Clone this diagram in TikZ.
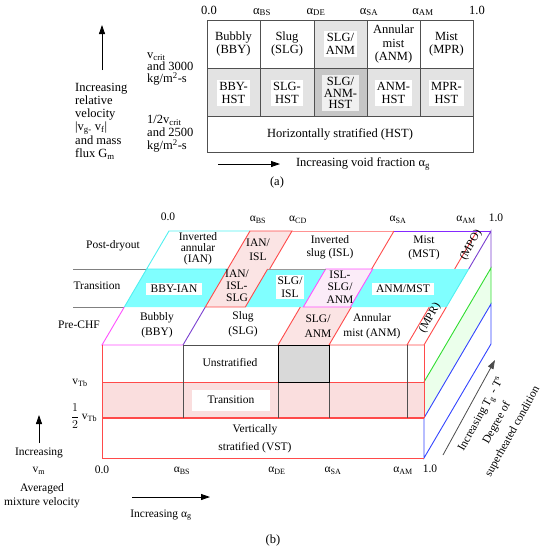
\documentclass[tikz,border=0pt]{standalone}
\usepackage{fontspec}
\setmainfont{Liberation Serif}
\usepackage{amsmath}
\usetikzlibrary{arrows.meta}
\definecolor{cyanfill}{HTML}{80FFFF}
\definecolor{pinkfill}{HTML}{FBE4E4}
\definecolor{magfill}{HTML}{FBECF8}
\definecolor{trpink}{HTML}{FADEDE}
\definecolor{edgeRed}{HTML}{FF4A4A}
\definecolor{edgeMag}{HTML}{FF50FF}
\definecolor{edgeCyan}{HTML}{50F0F0}
\definecolor{edgeGreen}{HTML}{30DD30}
\definecolor{edgeBlue}{HTML}{3344FF}
\definecolor{edgePurple}{HTML}{7A3FD0}
\definecolor{gridgray}{HTML}{505050}

\begin{document}
\begin{tikzpicture}[x=1pt,y=-1pt,z={(22.33pt,38pt)},
  lblA/.style={align=center,inner sep=1pt,font=\fontsize{12.5}{13.5}\selectfont},
  lblB/.style={align=center,inner sep=1pt,font=\fontsize{11.5}{12.5}\selectfont},
  wbox/.style={fill=white,inner sep=2pt},
  gridln/.style={draw=gridgray,line width=0.8pt},
  edge/.style={line width=0.9pt},
  arr/.style={-{Triangle[length=9pt,width=6pt]},line width=0.8pt}]
  \useasboundingbox (0,0) rectangle (545,550);

  % (a)
  \fill[gray!22] (314,20) rectangle (367,68);
  \fill[gray!22] (207,68) rectangle (473,116);
  \fill[gray!45] (314,68) rectangle (367,116);
  \draw[gridln] (207,20) rectangle (473,152);
  \draw[gridln] (207,68) -- (473,68) (207,116) -- (473,116);
  \foreach \x in {260,314,367,420} \draw[gridln] (\x,20) -- (\x,116);

  \node[lblA] (a00) at (209,10) {0.0};
  \node[lblA] (aBS) at (262,12) {α\textsubscript{BS}};
  \node[lblA] (aDE) at (316,12) {α\textsubscript{DE}};
  \node[lblA] (aSA) at (369,12) {α\textsubscript{SA}};
  \node[lblA] (aAM) at (423,12) {α\textsubscript{AM}};
  \node[lblA] (a10) at (477,10) {1.0};

  \node[lblA] (bby) at (233.5,44) {Bubbly\\(BBY)};
  \node[lblA] (slg) at (287,44) {Slug\\(SLG)};
  \node[lblA,wbox] (slganm) at (340.5,44) {SLG/\\ANM};
  \node[lblA] (anm) at (393.5,44) {Annular\\mist\\(ANM)};
  \node[lblA] (mpr) at (446.5,44) {Mist\\(MPR)};
  \node[lblA,wbox] (bbyhst) at (233.5,93) {BBY-\\HST};
  \node[lblA,wbox] (slghst) at (287,93) {SLG-\\HST};
  \node[lblA,wbox,fill=gray!12,font=\fontsize{12.5}{11.5}\selectfont] (slganmhst) at (340.5,93) {SLG/\\ANM-\\HST};
  \node[lblA,wbox] (anmhst) at (393.5,93) {ANM-\\HST};
  \node[lblA,wbox] (mprhst) at (446.5,93) {MPR-\\HST};
  \node[lblA] (hst) at (340,134) {Horizontally stratified (HST)};

  \node[lblA,align=left,anchor=west,font=\fontsize{12.5}{12}\selectfont] (vcrit) at (146,69) {v\textsubscript{crit}\\and 3000\\kg/m\textsuperscript{2}-s};
  \node[lblA,align=left,anchor=west,font=\fontsize{12.5}{13}\selectfont] (vhalf) at (146,134) {1/2v\textsubscript{crit}\\and 2500\\kg/m\textsuperscript{2}-s};
  \node[lblA,align=left,anchor=west,font=\fontsize{12.5}{13.2}\selectfont] (relvel) at (74,121) {Increasing\\relative\\velocity\\|v\textsubscript{g-} v\textsubscript{f}|\\and mass\\flux G\textsubscript{m}};
  \coordinate (upA0) at (102,70);
  \coordinate (upA1) at (102,25);
  \draw[arr] (upA0) -- (upA1);
  \coordinate (rtA0) at (218,164);
  \coordinate (rtA1) at (280,164);
  \draw[arr] (rtA0) -- (rtA1);
  \node[lblA] (voidA) at (363,164) {Increasing void fraction α\textsubscript{g}};
  \node[lblA] (capA) at (277,182) {(a)};

  % (b)
  \fill[trpink] (102,382) rectangle (424,418);
  \fill[gray!30] (278,345) rectangle (329,382);
  \fill[green!8] (424,382,0) -- (424,382,3) -- (424,418,3) -- (424,418,0) -- cycle;
  \foreach \a/\b/\k/\c in {278/329/0/pinkfill, 102/183/1/cyanfill, 183/223/1/pinkfill,
      223/281/1/cyanfill, 281/328/1/magfill, 328/424/1/cyanfill, 183/225/2/pinkfill}
    \fill[\c] (\a,345,\k) -- (\b,345,\k) -- (\b,345,\k+1) -- (\a,345,\k+1) -- cycle;

  \draw[gray,line width=1pt] (73,269) -- (102,345,2);
  \draw[gray,line width=1pt] (73,307) -- (102,345,1);

  \draw[edge,edgeMag] (102,345,1) -- (102,345,0) -- (183,345,0);
  \draw[edge,edgePurple] (183,345,0) -- (183,345,1);
  \draw[edge,gridgray] (183,345,0) -- (278,345,0);
  \draw[edge,edgeRed] (278,345,0) -- (278,345,1) (329,345,0) -- (329,345,1)
    (407,345,0) -- (407,345,1) (329,345,0) -- (424,345,0) -- (424,345,1);
  \draw[edge,edgeCyan] (102,345,1) -- (102,345,2);
  \draw[edge,edgeRed] (183,345,2) -- (183,345,1) -- (223,345,1) -- (223,345,2);
  \draw[edge,edgeMag] (281,345,1) -- (328,345,1) -- (328,345,2) -- (281,345,2) -- cycle;
  \draw[edge,gray!80] (223,345,2) -- (281,345,2);
  \draw[edge,edgeCyan] (424,345,1) -- (424,345,2);
  \draw[edge,edgeCyan] (183,345,2) -- (102,345,2) -- (102,345,3) -- (183,345,3);
  \draw[edge,edgeRed] (183,345,2) -- (183,345,3) -- (225,345,3) -- (225,345,2);
  \draw[edge,edgeRed!60] (225,345,3) -- (327,345,3);
  \draw[edge,edgeRed] (327,345,2) -- (327,345,3) (410,345,2) -- (410,345,3);
  \draw[edge,edgeBlue!60!magenta] (327,345,3) -- (424,345,3);
  \draw[edge,edgePurple] (424,345,2) -- (424,345,3) -- (424,382,3);
  \draw[edge,edgeGreen] (424,382,0) -- (424,382,3) -- (424,418,3);
  \draw[edge,edgeBlue] (424,418,0) -- (424,418,3) -- (424,458,3) -- (424,458,0) -- (424,418,0);

  \draw[edge,edgeRed] (424,345) -- (424,418) (102,382) -- (424,382);
  \draw[edge,edgeRed] (102,345) -- (102,458) -- (424,458);
  \draw[edgeRed,line width=1.5pt] (102,418) -- (424,418);
  \foreach \x in {183,278,329,407} \draw[gridln] (\x,345) -- (\x,418);
  \draw[black,line width=0.9pt] (278,345) rectangle (329,382);

  \node[lblB] (b00) at (168,217) {0.0};
  \node[lblB] (bBS) at (258,220) {α\textsubscript{BS}};
  \node[lblB] (bCD) at (298,220) {α\textsubscript{CD}};
  \node[lblB] (bSA) at (398,220) {α\textsubscript{SA}};
  \node[lblB] (bAM) at (466,220) {α\textsubscript{AM}};
  \node[lblB] (b10) at (496,218) {1.0};

  \node[lblB] (postdry) at (113,246) {Post-dryout};
  \node[lblB] (trans) at (97,286) {Transition};
  \node[lblB] (prechf) at (79,325) {Pre-CHF};

  \node[lblB,font=\fontsize{11.5}{11}\selectfont] (ian) at (198,249) {Inverted\\annular\\(IAN)};
  \node[lblB,font=\fontsize{11.5}{14}\selectfont] (ianisl) at (258,250) {IAN/\\ISL};
  \node[lblB] (isl) at (330,247) {Inverted\\slug (ISL)};
  \node[lblB,font=\fontsize{11.5}{14}\selectfont] (mst) at (424,248) {Mist\\(MST)};
  \node[lblB,rotate=60] (mpo) at (471,245) {(MPO)};

  \node[lblB,wbox,inner xsep=5pt] (bbyian) at (174,289) {BBY-IAN};
  \node[lblB,font=\fontsize{11.5}{12}\selectfont] (ianislslg) at (237,286) {IAN/\\ISL-\\SLG};
  \node[lblB,wbox,font=\fontsize{11.5}{13}\selectfont] (slgisl) at (290,287) {SLG/\\ISL};
  \node[lblB,font=\fontsize{11.5}{12.5}\selectfont] (islslganm) at (340,287) {ISL-\\SLG/\\ANM};
  \node[lblB,wbox,inner xsep=4pt] (anmmst) at (403,289) {ANM/MST};

  \node[lblB,font=\fontsize{11.5}{15}\selectfont] (bbyB) at (157,325) {Bubbly\\(BBY)};
  \node[lblB,font=\fontsize{11.5}{15}\selectfont] (slgB) at (243,324) {Slug\\(SLG)};
  \node[lblB,font=\fontsize{11.5}{15}\selectfont] (slganmB) at (318,326) {SLG/\\ANM};
  \node[lblB,font=\fontsize{11.5}{15}\selectfont] (anmB) at (372,326) {Annular\\mist (ANM)};
  \node[lblB,rotate=60] (mprB) at (430,318) {(MPR)};

  \node[lblB] (unstrat) at (230,363) {Unstratified};
  \node[lblB,fill=white,minimum width=78pt,minimum height=21pt] (transB) at (231,400) {Transition};
  \node[lblB,font=\fontsize{11.5}{18}\selectfont] (vst) at (255,439) {Vertically\\stratified (VST)};

  \node[lblB] (vtb) at (80,383) {v\textsubscript{Tb}};
  \node[lblB] (vtbhalf) at (84,416) {$\dfrac{1}{2}$ v\textsubscript{Tb}};

  \node[lblB] (c00) at (102,470) {0.0};
  \node[lblB] (cBS) at (182,471) {α\textsubscript{BS}};
  \node[lblB] (cDE) at (277,471) {α\textsubscript{DE}};
  \node[lblB] (cSA) at (333,471) {α\textsubscript{SA}};
  \node[lblB] (cAM) at (403,471) {α\textsubscript{AM}};
  \node[lblB] (c10) at (430,469) {1.0};

  \coordinate (vm0) at (39,443);
  \coordinate (vm1) at (39,415);
  \draw[arr] (vm0) -- (vm1);
  \node[lblB,font=\fontsize{11.5}{17}\selectfont] (incvm) at (39,461) {Increasing\\v\textsubscript{m}};
  \node[lblB,font=\fontsize{11.5}{14}\selectfont] (avgvm) at (42,496) {Averaged\\mixture velocity};
  \coordinate (ag0) at (132,497);
  \coordinate (ag1) at (210,497);
  \draw[arr] (ag0) -- (ag1);
  \node[lblB] (incag) at (161,515) {Increasing α\textsubscript{g}};

  \coordinate (tS) at (443,455);
  \coordinate (tE) at (495,360);
  \draw[arr,gray!60!black] (tS) -- (tE);
  \node[lblB,rotate=61,font=\fontsize{11.5}{18}\selectfont] (superheat) at (497,423) {Increasing T\textsubscript{g} - T\textsuperscript{s}\\Degree of\\superheated condition};

  \node[lblA] (capB) at (273,540) {(b)};
\end{tikzpicture}
\end{document}
